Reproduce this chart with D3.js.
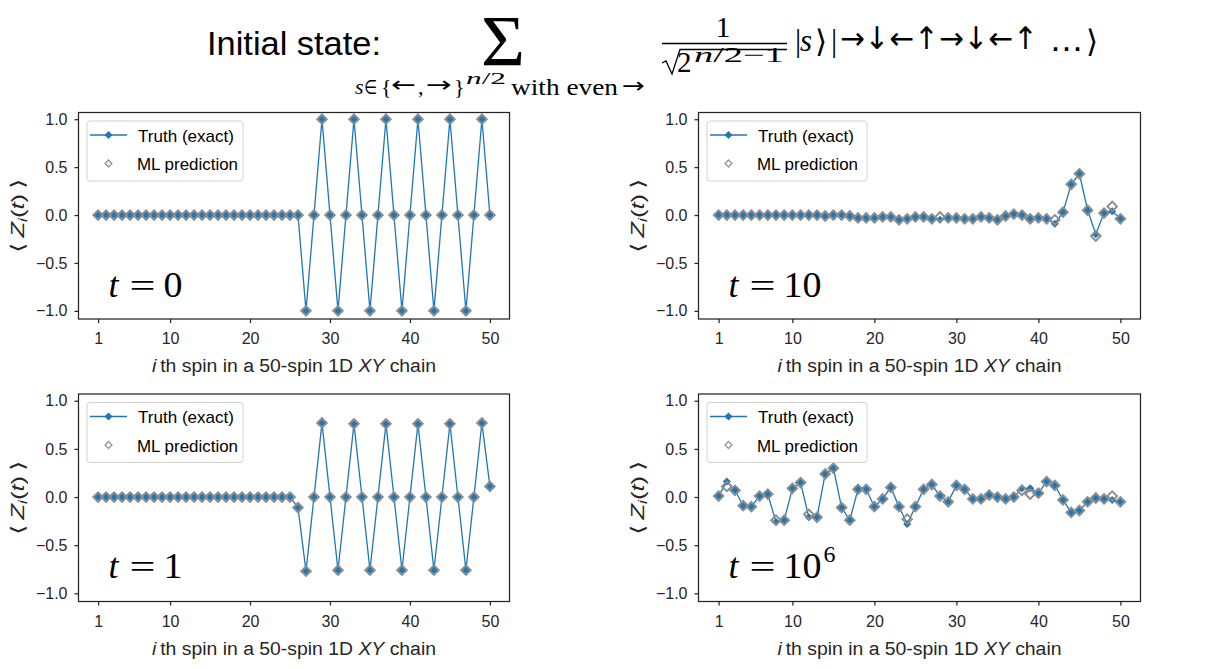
<!DOCTYPE html>
<html>
<head>
<meta charset="utf-8">
<script src="https://cdn.jsdelivr.net/npm/d3@7"></script>
<style>
  body { margin: 0; background: #fff; }
  svg { display: block; font-family: "Liberation Sans", Arial, sans-serif; }
  .axis text { font-size: 16px; fill: #262626; font-family: "Liberation Sans", Arial, sans-serif; }
  .axis line { stroke: #262626; stroke-width: 1.25; }
  .axis path { display: none; }
</style>
</head>
<body>
<svg id="chart" width="1225" height="669"></svg>
<script>
// spin index along the chain and axis ticks
var spinIndex = d3.range(1, 51);
var xTicks = [1, 10, 20, 30, 40, 50];
var yTicks = [-1, -0.5, 0, 0.5, 1];

// <Z_i(t)>, i = 1..50
var truthT0 = [0,0,0,0,0,0,0,0,0,0, 0,0,0,0,0,0,0,0,0,0, 0,0,0,0,0,0,-1,0,1,0,
  -1,0,1,0,-1,0,1,0,-1,0, 1,0,-1,0,1,0,-1,0,1,0];
var mlT0 = [0,0,0,0,0,0,0,0,0,0, 0,0,0,0,0,0,0,0,0,0, 0,0,0,0,0,0,-1,0,1,0,
  -1,0,1,0,-1,0,1,0,-1,0, 1,0,-1,0,1,0,-1,0,1,0];

var truthT10 = [0,0,0,0,0,0,0,0,0,0, 0,0,0,-0.01,0,0,-0.01,-0.03,-0.03,-0.03,
  -0.02,-0.02,-0.05,-0.04,-0.02,-0.02,-0.04,-0.05,-0.03,-0.03,
  -0.04,-0.04,-0.02,-0.03,-0.05,-0.01,0.01,0,-0.04,-0.03,
  -0.04,-0.09,0.03,0.32,0.43,0.05,-0.20,0.02,0.04,-0.04];
var mlT10 = [0,0,0,0,0,0,0,0,0,0, 0,0,0,-0.01,0,0,-0.01,-0.03,-0.03,-0.03,
  -0.02,-0.02,-0.05,-0.04,-0.02,-0.02,-0.04,-0.02,-0.03,-0.03,
  -0.04,-0.04,-0.02,-0.03,-0.05,-0.01,0.01,0,-0.04,-0.03,
  -0.04,-0.05,0.03,0.32,0.43,0.05,-0.22,0.02,0.09,-0.04];

var truthT1 = [0,0,0,0,0,0,0,0,0,0, 0,0,0,0,0,0,0,0,0,0, 0,0,0,0,0,-0.11,-0.77,0,0.77,0,
  -0.76,0,0.76,0,-0.76,0,0.76,0,-0.76,0, 0.76,0,-0.76,0,0.76,0,-0.76,0,0.77,0.11];
var mlT1 = [0,0,0,0,0,0,0,0,0,0, 0,0,0,0,0,0,0,0,0,0, 0,0,0,0,0,-0.11,-0.77,0,0.77,0,
  -0.76,0,0.76,0,-0.76,0,0.76,0,-0.76,0, 0.76,0,-0.76,0,0.76,0,-0.76,0,0.77,0.11];

var truthT1e6 = [0.01,0.16,0.07,-0.09,-0.10,0.01,0.03,-0.26,-0.24,0.09,
  0.15,-0.21,-0.21,0.24,0.30,-0.11,-0.24,0.08,0.08,-0.10,
  -0.02,0.10,-0.10,-0.28,-0.10,0.08,0.13,0.01,-0.05,0.12,
  0.08,-0.02,-0.02,0.02,0.00,-0.02,0.00,0.09,0.09,0.04,
  0.16,0.12,-0.03,-0.16,-0.14,-0.05,-0.01,-0.02,-0.03,-0.05];
var mlT1e6 = [0.01,0.11,0.07,-0.09,-0.10,0.01,0.03,-0.24,-0.24,0.09,
  0.15,-0.18,-0.21,0.24,0.30,-0.11,-0.24,0.08,0.08,-0.10,
  -0.02,0.10,-0.10,-0.23,-0.10,0.08,0.13,0.01,-0.05,0.12,
  0.08,-0.02,-0.02,0.02,0.00,-0.02,0.00,0.07,0.03,0.04,
  0.16,0.12,-0.03,-0.16,-0.14,-0.05,-0.01,-0.02,0.01,-0.05];

var timeLabels = ['0', '10', '1', '10'];
var timeExponents = ['', '', '', '6'];

// page layout of the four axes
var boxes = [
  {left: 78.5, top: 112.5, width: 431, height: 206.5},
  {left: 698.5, top: 112.5, width: 442, height: 206.5},
  {left: 78.5, top: 394, width: 431, height: 207.5},
  {left: 698.5, top: 394, width: 442, height: 207.5}
];

var blue = '#1f77b4', grey = '#8c8c8c', ink = '#262626';
var serif = '"Liberation Serif", "DejaVu Serif", serif';
var symb = '"DejaVu Sans", sans-serif';
var svg = d3.select('#chart');

function diamond(r) {
  return d3.symbol(d3.symbolSquare, 2 * r * r)();
}

// put one piece of math text at a fixed spot
function put(parent, str, x, y, size, opts) {
  opts = opts || {};
  var t = parent.append('text').attr('x', x).attr('y', y)
    .attr('font-size', size).attr('fill', '#000')
    .attr('font-family', opts.font || serif)
    .text(str);
  if (opts.italic) t.attr('font-style', 'italic');
  if (opts.len) t.attr('textLength', opts.len).attr('lengthAdjust', opts.adjust || 'spacingAndGlyphs');
  if (opts.anchor) t.attr('text-anchor', opts.anchor);
  return t;
}

function drawPanel(box, truth, ml, tLabel, tExp) {
  var x = d3.scaleLinear().domain([-1.45, 52.45]).range([box.left, box.left + box.width]);
  var y = d3.scaleLinear().domain([-1.085, 1.07]).range([box.top + box.height, box.top]);

  // axes
  svg.append('g').attr('class', 'axis')
    .attr('transform', 'translate(0,' + (box.top + box.height) + ')')
    .call(d3.axisBottom(x).tickValues(xTicks).tickSize(4).tickPadding(10));
  svg.append('g').attr('class', 'axis')
    .attr('transform', 'translate(' + box.left + ',0)')
    .call(d3.axisLeft(y).tickValues(yTicks).tickSize(4).tickPadding(7).tickFormat(d3.format('.1f')));

  var g = svg.append('g');
  // truth: line with filled blue diamonds
  var line = d3.line().x(function(d, i) { return x(spinIndex[i]); }).y(function(d) { return y(d); });
  g.append('path').datum(truth)
    .attr('d', line).attr('fill', 'none').attr('stroke', blue).attr('stroke-width', 1.3);
  g.selectAll('.truth').data(truth).enter().append('path')
    .attr('class', 'truth')
    .attr('d', diamond(4))
    .attr('transform', function(d, i) { return 'translate(' + x(spinIndex[i]) + ',' + y(d) + ') rotate(45)'; })
    .attr('fill', blue);
  // ML prediction: hollow grey diamonds
  g.selectAll('.ml').data(ml).enter().append('path')
    .attr('class', 'ml')
    .attr('d', diamond(4.8))
    .attr('transform', function(d, i) { return 'translate(' + x(spinIndex[i]) + ',' + y(d) + ') rotate(45)'; })
    .attr('fill', 'none').attr('stroke', grey).attr('stroke-width', 1.9);

  // frame
  svg.append('rect')
    .attr('x', box.left).attr('y', box.top).attr('width', box.width).attr('height', box.height)
    .attr('fill', 'none').attr('stroke', ink).attr('stroke-width', 1.25);

  // legend
  var lx = box.left + 8.5, ly = box.top + 8.5;
  var lg = svg.append('g');
  lg.append('rect').attr('x', lx).attr('y', ly).attr('width', box.width > 435 ? 160 : 156).attr('height', 60)
    .attr('rx', 3).attr('fill', '#fff').attr('fill-opacity', 0.8).attr('stroke', '#d2d2d2');
  lg.append('line').attr('x1', lx + 3).attr('x2', lx + 40).attr('y1', ly + 14).attr('y2', ly + 14)
    .attr('stroke', blue).attr('stroke-width', 1.3);
  lg.append('path').attr('d', diamond(4))
    .attr('transform', 'translate(' + (lx + 21.5) + ',' + (ly + 14) + ') rotate(45)').attr('fill', blue);
  lg.append('path').attr('d', diamond(3.4))
    .attr('transform', 'translate(' + (lx + 21.5) + ',' + (ly + 42.5) + ') rotate(45)')
    .attr('fill', 'none').attr('stroke', '#999').attr('stroke-width', 1.4);
  lg.append('text').attr('x', lx + 51).attr('y', ly + 20.5).attr('font-size', 17).attr('fill', '#000')
    .attr('textLength', 96).attr('lengthAdjust', 'spacingAndGlyphs').text('Truth (exact)');
  lg.append('text').attr('x', lx + 50).attr('y', ly + 49).attr('font-size', 17).attr('fill', '#000')
    .attr('textLength', 101).attr('lengthAdjust', 'spacingAndGlyphs').text('ML prediction');

  // x label
  var xl = svg.append('text')
    .attr('x', box.left + box.width / 2).attr('y', box.top + box.height + 53)
    .attr('text-anchor', 'middle').attr('font-size', 18).attr('fill', ink)
    .attr('textLength', 284).attr('lengthAdjust', 'spacingAndGlyphs');
  xl.append('tspan').attr('font-style', 'italic').text('i');
  xl.append('tspan').text('\u2009th spin in a 50-spin 1D ');
  xl.append('tspan').attr('font-style', 'italic').text('XY');
  xl.append('tspan').text(' chain');

  // y label
  var yl = svg.append('text')
    .attr('transform', 'translate(' + (box.left - 55) + ',' + (box.top + box.height / 2) + ') rotate(-90)')
    .attr('text-anchor', 'middle').attr('font-size', 19).attr('fill', ink)
    .attr('textLength', 74).attr('lengthAdjust', 'spacingAndGlyphs');
  yl.append('tspan').attr('font-family', symb).text('\u27e8\u2009');
  yl.append('tspan').attr('font-style', 'italic').text('Z');
  yl.append('tspan').attr('font-style', 'italic').attr('font-size', 13).attr('dy', 3).text('i');
  yl.append('tspan').attr('dy', -3).text('(');
  yl.append('tspan').attr('font-style', 'italic').text('t');
  yl.append('tspan').text(')');
  yl.append('tspan').attr('font-family', symb).text('\u2009\u27e9');

  // time annotation
  var tx = box.left + 30, ty = box.top + 184;
  put(svg, 't', tx, ty, 36, {italic: true});
  put(svg, '=', tx + 21, ty, 34, {len: 26});
  put(svg, tLabel, tx + 55, ty, 35, {len: tLabel.length * 19});
  if (tExp) put(svg, tExp, tx + 57 + tLabel.length * 19, ty - 16, 24);
}

var truthSets = [truthT0, truthT10, truthT1, truthT1e6];
var mlSets = [mlT0, mlT10, mlT1, mlT1e6];
boxes.forEach(function(b, k) {
  drawPanel(b, truthSets[k], mlSets[k], timeLabels[k], timeExponents[k]);
});

// title with the initial state
var title = svg.append('g');
put(title, 'Initial state:', 207, 55, 33, {font: '"Liberation Sans", Arial, sans-serif', len: 174});
put(title, '\u03a3', 481, 65, 72, {len: 44});

// subscript of the sum
put(title, 's', 355, 94, 22, {italic: true});
put(title, '\u2208', 364, 94, 20, {font: symb, len: 13});
put(title, '{', 381, 94, 22);
put(title, '\u2190', 391, 92, 22, {font: symb, len: 25});
put(title, ',', 418, 94, 22);
put(title, '\u2192', 426, 92, 22, {font: symb, len: 26});
put(title, '}', 454, 94, 22);
var sup = put(title, '', 466, 84, 17, {len: 40});
sup.append('tspan').attr('font-style', 'italic').text('n');
sup.append('tspan').text('/2');
put(title, 'with even', 511, 95, 24, {len: 107});
put(title, '\u2192', 622, 93, 22, {font: symb, len: 23});

// fraction 1 / sqrt(2^(n/2-1))
put(title, '1', 723, 37, 30, {anchor: 'middle'});
title.append('line').attr('x1', 662).attr('x2', 787).attr('y1', 43.5).attr('y2', 43.5)
  .attr('stroke', '#000').attr('stroke-width', 1.6);
title.append('path').attr('d', 'M662,63 L666,61 L672,74 L680,49.5 L787,49.5')
  .attr('fill', 'none').attr('stroke', '#000').attr('stroke-width', 1.3);
put(title, '2', 677, 72, 29);
var expo = put(title, '', 694, 62, 21, {len: 90});
expo.append('tspan').attr('font-style', 'italic').text('n');
expo.append('tspan').text('/2\u22121');

// ket with the spin pattern
var ketY = 51, ketSize = 31;
put(title, '|', 795, ketY, ketSize);
put(title, 's', 800, ketY, ketSize, {italic: true});
put(title, '\u27e9', 815, ketY + 1, ketSize, {font: symb});
put(title, '|', 831, ketY, ketSize);
put(title, '\u2192\u2193\u2190\u2191\u2192\u2193\u2190\u2191', 840, ketY - 2, ketSize, {font: symb, len: 198});
put(title, '\u2026', 1050, ketY, ketSize, {font: symb, len: 33});
put(title, '\u27e9', 1086, ketY + 1, ketSize, {font: symb});
</script>
</body>
</html>
